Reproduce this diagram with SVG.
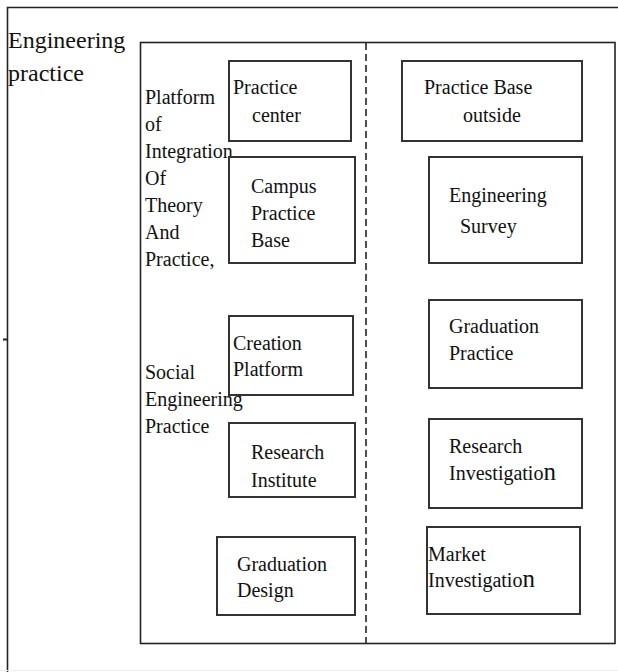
<svg xmlns="http://www.w3.org/2000/svg" width="618" height="672" viewBox="0 0 618 672">
<style>
text{font-family:'Liberation Serif','DejaVu Serif','Noto Serif',serif;font-size:20px;fill:#111}
.title{font-size:24px}
.box{fill:#fff;stroke:#333;stroke-width:2}
.frame{fill:none;stroke:#222;stroke-width:1.6}
.dash{stroke:#222;stroke-width:1.6;stroke-dasharray:7 4;fill:none}
.big{font-size:25px}
</style>
<rect width="618" height="672" fill="#fff"/>
<g id="outer">
<polyline class="frame" points="619,7.5 7.5,7.5 7.5,673"/>
<line x1="3" y1="339.5" x2="8" y2="339.5" stroke="#222" stroke-width="2"/>
<line x1="0" y1="670.5" x2="618" y2="670.5" stroke="#ececec" stroke-width="1"/>
<text class="title" x="8" y="48">Engineering</text>
<text class="title" x="8" y="81">practice</text>
</g>
<g id="inner">
<rect class="frame" x="140.5" y="42.5" width="474.5" height="601"/>
</g>
<g id="connectors">
<line class="dash" x1="366" y1="43" x2="366" y2="643"/>
</g>
<g id="label-platform">
<text x="145" y="104">Platform</text>
<text x="145" y="131">of</text>
<text x="145" y="158">Integration</text>
<text x="145" y="185">Of</text>
<text x="145" y="212">Theory</text>
<text x="145" y="239">And</text>
<text x="145" y="266">Practice,</text>
</g>
<g id="label-social">
<text x="145" y="379">Social</text>
<text x="145" y="406">Engineering</text>
<text x="145" y="433">Practice</text>
</g>
<g id="practice-center">
<rect class="box" x="229" y="61" width="122" height="80"/>
<text x="233" y="94">Practice</text>
<text x="252" y="122">center</text>
</g>
<g id="practice-base-outside">
<rect class="box" x="402" y="61" width="180" height="80"/>
<text x="424" y="94">Practice Base</text>
<text x="463" y="122">outside</text>
</g>
<g id="campus-practice-base">
<rect class="box" x="229" y="157" width="126" height="106"/>
<text x="251" y="193">Campus</text>
<text x="251" y="220">Practice</text>
<text x="251" y="247">Base</text>
</g>
<g id="engineering-survey">
<rect class="box" x="429" y="157" width="153" height="106"/>
<text x="449" y="202">Engineering</text>
<text x="460" y="233">Survey</text>
</g>
<g id="creation-platform">
<rect class="box" x="229" y="316" width="124" height="79"/>
<text x="233" y="350">Creation</text>
<text x="233" y="376">Platform</text>
</g>
<g id="graduation-practice">
<rect class="box" x="429" y="300" width="153" height="88"/>
<text x="449" y="333">Graduation</text>
<text x="449" y="360">Practice</text>
</g>
<g id="research-institute">
<rect class="box" x="229" y="423" width="126" height="74"/>
<text x="251" y="459">Research</text>
<text x="251" y="487">Institute</text>
</g>
<g id="research-investigation">
<rect class="box" x="429" y="419" width="153" height="89"/>
<text x="449" y="453">Research</text>
<text x="449" y="480">Investigatio<tspan class="big">n</tspan></text>
</g>
<g id="graduation-design">
<rect class="box" x="217" y="537" width="138" height="78"/>
<text x="237" y="571">Graduation</text>
<text x="237" y="597">Design</text>
</g>
<g id="market-investigation">
<rect class="box" x="427" y="527" width="153" height="87"/>
<text x="428" y="561">Market</text>
<text x="428" y="587">Investigatio<tspan class="big">n</tspan></text>
</g>
</svg>
